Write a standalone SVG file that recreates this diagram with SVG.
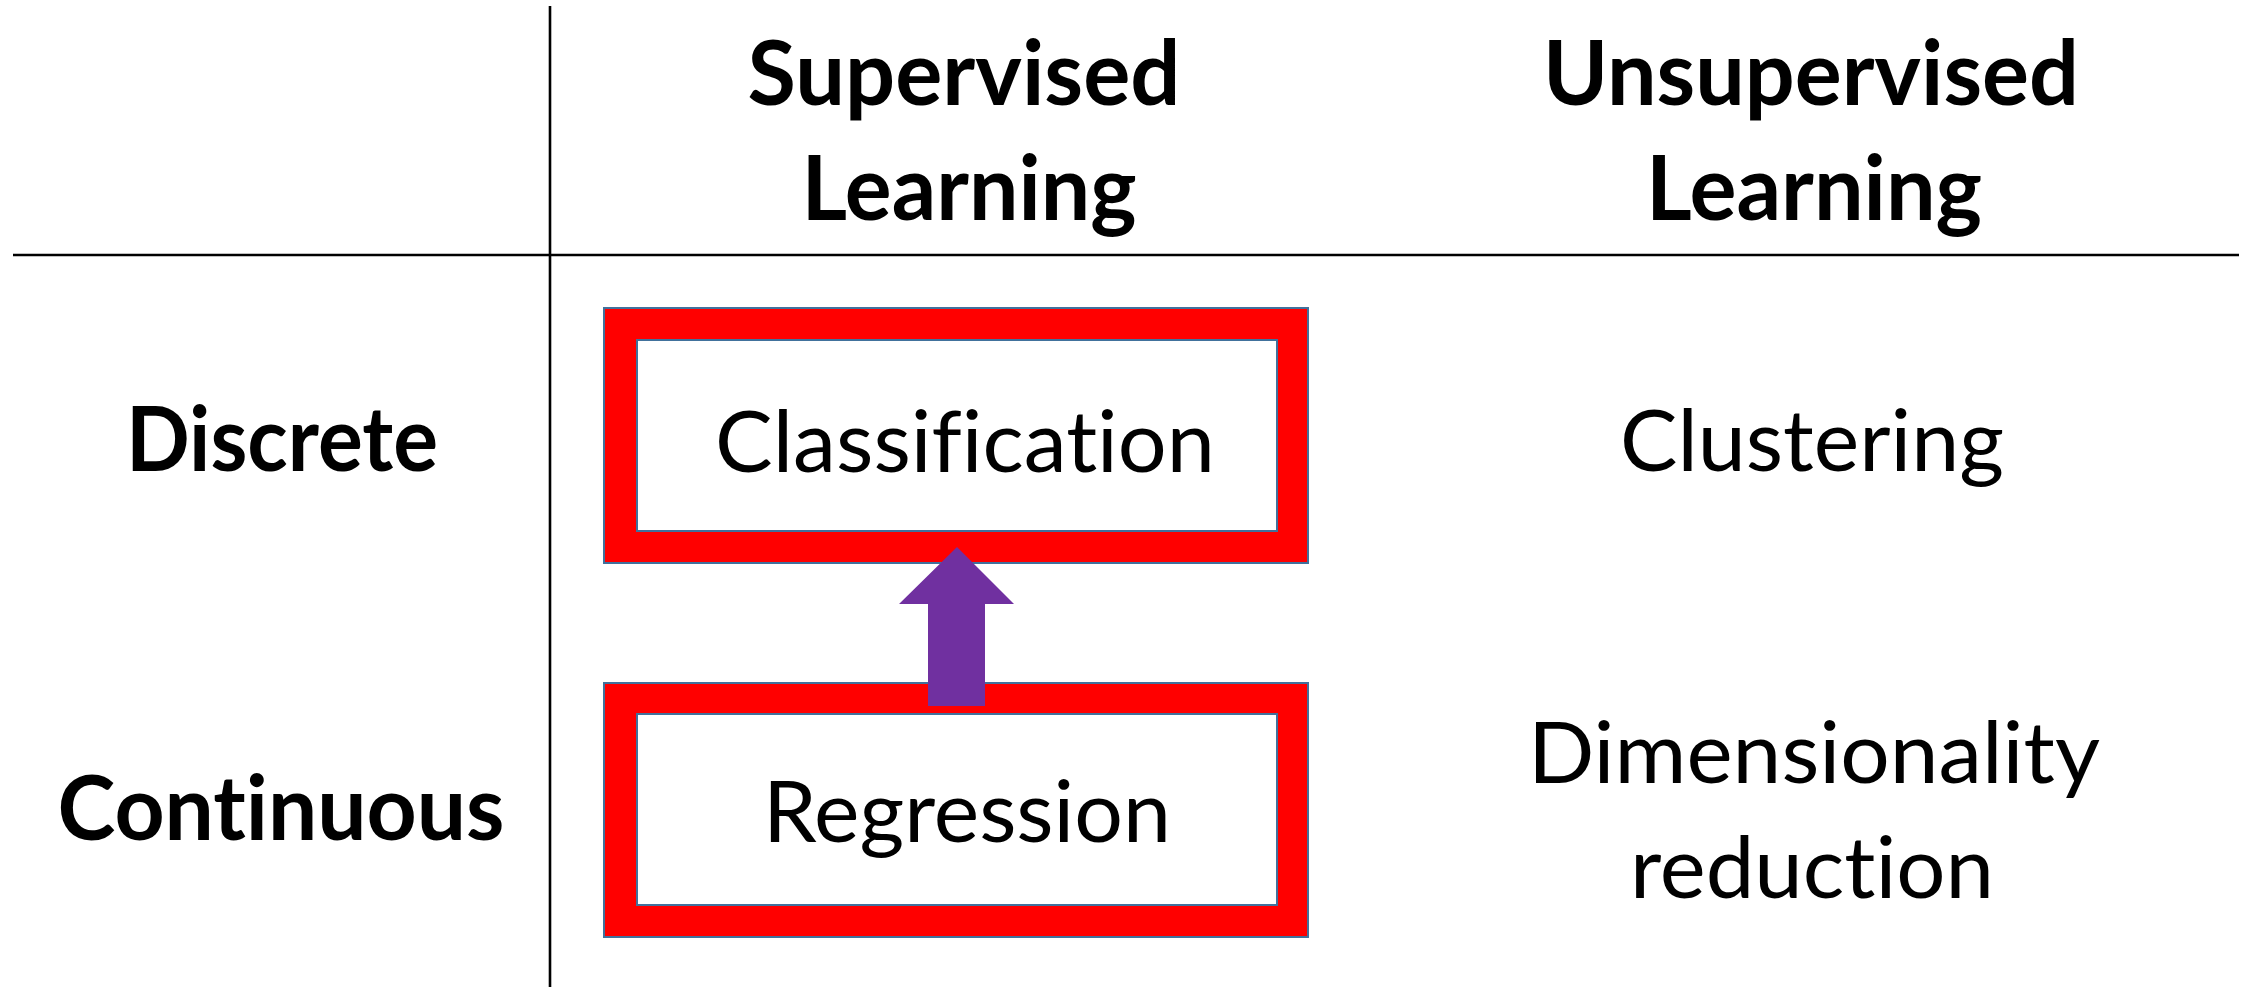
<svg xmlns="http://www.w3.org/2000/svg" width="2249" height="987" viewBox="0 0 2249 987">
  <style>
    .grid { stroke: #000000; stroke-width: 2.6; fill: none; }
    .frame { fill: #FF0000; stroke: #41719C; stroke-width: 2; }
    .face { fill: #FFFFFF; stroke: #41719C; stroke-width: 2; }
    text { font-variant-ligatures: none; font-feature-settings: "liga" 0, "clig" 0, "dlig" 0; }
    .head { font-family: Lato, "Liberation Sans", sans-serif; font-weight: 700; font-size: 89px; fill: #000000; text-anchor: middle; }
    .cell { font-family: Lato, "Liberation Sans", sans-serif; font-weight: 400; font-size: 85px; fill: #000000; text-anchor: middle; }
    .arrow { fill: #7030A0; }
  </style>

  <rect x="0" y="0" width="2249" height="987" fill="#FFFFFF"/>

  <!-- table rules -->
  <g id="grid">
    <line class="grid" x1="550" y1="6" x2="550" y2="987"/>
    <line class="grid" x1="13" y1="255" x2="2239" y2="255"/>
  </g>

  <!-- column headings -->
  <g id="col-supervised">
    <text class="head" x="964" y="105" textLength="433" lengthAdjust="spacingAndGlyphs">Supervised</text>
    <text class="head" x="969" y="220" textLength="335" lengthAdjust="spacingAndGlyphs">Learning</text>
  </g>
  <g id="col-unsupervised">
    <text class="head" x="1811" y="105" textLength="536" lengthAdjust="spacingAndGlyphs">Unsupervised</text>
    <text class="head" x="1814" y="220" textLength="336" lengthAdjust="spacingAndGlyphs">Learning</text>
  </g>

  <!-- row headings -->
  <g id="row-discrete">
    <text class="head" x="282" y="471" textLength="312" lengthAdjust="spacingAndGlyphs">Discrete</text>
  </g>
  <g id="row-continuous">
    <text class="head" x="281" y="840" textLength="447" lengthAdjust="spacingAndGlyphs">Continuous</text>
  </g>

  <!-- supervised cells -->
  <g id="classification">
    <rect class="frame" x="604" y="308" width="704" height="255"/>
    <rect class="face" x="637" y="340" width="640" height="191"/>
    <text class="cell" x="965" y="472" textLength="500" lengthAdjust="spacingAndGlyphs">Classification</text>
  </g>
  <g id="regression">
    <rect class="frame" x="604" y="683" width="704" height="254"/>
    <rect class="face" x="637" y="714" width="640" height="191"/>
    <text class="cell" x="967" y="842" textLength="408" lengthAdjust="spacingAndGlyphs">Regression</text>
  </g>

  <!-- unsupervised cells -->
  <g id="clustering">
    <text class="cell" x="1812" y="471" textLength="384" lengthAdjust="spacingAndGlyphs">Clustering</text>
  </g>
  <g id="dimensionality-reduction">
    <text class="cell" x="1814" y="783" textLength="572" lengthAdjust="spacingAndGlyphs">Dimensionality</text>
    <text class="cell" x="1812" y="898" textLength="364" lengthAdjust="spacingAndGlyphs">reduction</text>
  </g>

  <!-- block arrow from Regression up to Classification -->
  <g id="connectors">
    <polygon class="arrow" points="957,547 1014,604 985,604 985,706 928,706 928,604 899,604"/>
  </g>
</svg>
